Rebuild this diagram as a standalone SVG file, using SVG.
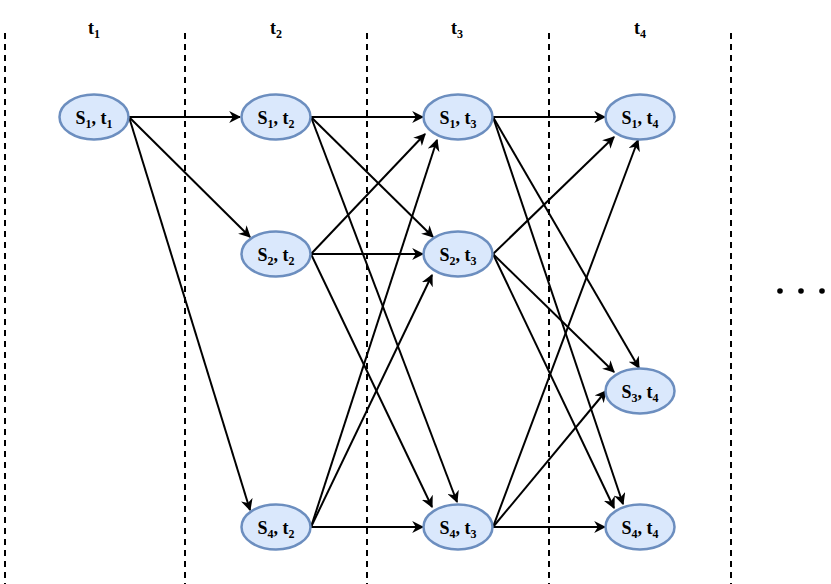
<svg xmlns="http://www.w3.org/2000/svg" width="831" height="584" viewBox="0 0 831 584">
<style>
.n{fill:#dae8fc;stroke:#6c8ebf;stroke-width:2.5}
.t{font-family:"Liberation Serif",serif;font-weight:bold;font-size:18px;text-anchor:middle;fill:#000}
.d{stroke:#000;stroke-width:2;stroke-dasharray:6,5}
.e line{stroke:#000;stroke-width:2;marker-end:url(#a)}
</style>
<defs><marker id="a" viewBox="0 0 10 10" refX="9" refY="5" markerWidth="6" markerHeight="6" orient="auto" markerUnits="userSpaceOnUse"><path d="M0,0 L10,5 L0,10 L3,5 z" fill="#000"/></marker>
<marker id="a2" viewBox="0 0 10 10" refX="9" refY="5" markerWidth="12" markerHeight="12" orient="auto" markerUnits="userSpaceOnUse"><path d="M0,0 L10,5 L0,10 L3,5 z" fill="#000"/></marker></defs>
<style>.e line{marker-end:url(#a2)}</style>
<g id="grid">
<line class="d" x1="5" y1="33" x2="5" y2="584"/><line class="d" x1="185" y1="33" x2="185" y2="584"/><line class="d" x1="367" y1="33" x2="367" y2="584"/><line class="d" x1="549" y1="33" x2="549" y2="584"/><line class="d" x1="731" y1="33" x2="731" y2="584"/>
<text class="t" x="94" y="34">t<tspan font-size="12" dy="4">1</tspan></text>
<text class="t" x="276" y="34">t<tspan font-size="12" dy="4">2</tspan></text>
<text class="t" x="457" y="34">t<tspan font-size="12" dy="4">3</tspan></text>
<text class="t" x="640" y="34">t<tspan font-size="12" dy="4">4</tspan></text>
</g>
<g id="connectors" class="e">
<line x1="129" y1="117" x2="240" y2="117"/>
<line x1="129" y1="117" x2="250" y2="237"/>
<line x1="129" y1="117" x2="250" y2="510"/>
<line x1="311" y1="117" x2="423" y2="117"/>
<line x1="311" y1="117" x2="433" y2="237"/>
<line x1="311" y1="117" x2="457" y2="502"/>
<line x1="311" y1="254" x2="425" y2="134"/>
<line x1="311" y1="254" x2="423" y2="254"/>
<line x1="311" y1="254" x2="432" y2="507"/>
<line x1="311" y1="527" x2="437" y2="140"/>
<line x1="311" y1="527" x2="432" y2="275"/>
<line x1="311" y1="527" x2="423" y2="527"/>
<line x1="493" y1="117" x2="605" y2="117"/>
<line x1="493" y1="117" x2="639" y2="368"/>
<line x1="493" y1="117" x2="623" y2="504"/>
<line x1="493" y1="254" x2="614" y2="137"/>
<line x1="493" y1="254" x2="614" y2="372"/>
<line x1="493" y1="254" x2="614" y2="508"/>
<line x1="493" y1="527" x2="638" y2="140"/>
<line x1="493" y1="527" x2="606" y2="391"/>
<line x1="493" y1="527" x2="605" y2="527"/>
</g>
<g id="n11"><ellipse class="n" cx="94" cy="117" rx="34.5" ry="22.5"/><text class="t" x="94" y="124">S<tspan font-size="12" dy="4">1</tspan><tspan dy="-4">, t</tspan><tspan font-size="12" dy="4">1</tspan></text></g>
<g id="n12"><ellipse class="n" cx="276" cy="117" rx="34.5" ry="22.5"/><text class="t" x="276" y="124">S<tspan font-size="12" dy="4">1</tspan><tspan dy="-4">, t</tspan><tspan font-size="12" dy="4">2</tspan></text></g>
<g id="n22"><ellipse class="n" cx="276" cy="254" rx="34.5" ry="22.5"/><text class="t" x="276" y="261">S<tspan font-size="12" dy="4">2</tspan><tspan dy="-4">, t</tspan><tspan font-size="12" dy="4">2</tspan></text></g>
<g id="n42"><ellipse class="n" cx="276" cy="527" rx="34.5" ry="22.5"/><text class="t" x="276" y="534">S<tspan font-size="12" dy="4">4</tspan><tspan dy="-4">, t</tspan><tspan font-size="12" dy="4">2</tspan></text></g>
<g id="n13"><ellipse class="n" cx="458" cy="117" rx="34.5" ry="22.5"/><text class="t" x="458" y="124">S<tspan font-size="12" dy="4">1</tspan><tspan dy="-4">, t</tspan><tspan font-size="12" dy="4">3</tspan></text></g>
<g id="n23"><ellipse class="n" cx="458" cy="254" rx="34.5" ry="22.5"/><text class="t" x="458" y="261">S<tspan font-size="12" dy="4">2</tspan><tspan dy="-4">, t</tspan><tspan font-size="12" dy="4">3</tspan></text></g>
<g id="n43"><ellipse class="n" cx="458" cy="527" rx="34.5" ry="22.5"/><text class="t" x="458" y="534">S<tspan font-size="12" dy="4">4</tspan><tspan dy="-4">, t</tspan><tspan font-size="12" dy="4">3</tspan></text></g>
<g id="n14"><ellipse class="n" cx="640" cy="117" rx="34.5" ry="22.5"/><text class="t" x="640" y="124">S<tspan font-size="12" dy="4">1</tspan><tspan dy="-4">, t</tspan><tspan font-size="12" dy="4">4</tspan></text></g>
<g id="n34"><ellipse class="n" cx="640" cy="391" rx="34.5" ry="22.5"/><text class="t" x="640" y="398">S<tspan font-size="12" dy="4">3</tspan><tspan dy="-4">, t</tspan><tspan font-size="12" dy="4">4</tspan></text></g>
<g id="n44"><ellipse class="n" cx="640" cy="527" rx="34.5" ry="22.5"/><text class="t" x="640" y="534">S<tspan font-size="12" dy="4">4</tspan><tspan dy="-4">, t</tspan><tspan font-size="12" dy="4">4</tspan></text></g>
<g id="dots" fill="#000"><circle cx="780" cy="291" r="2.8"/><circle cx="801" cy="291" r="2.8"/><circle cx="822" cy="291" r="2.8"/></g>
</svg>
